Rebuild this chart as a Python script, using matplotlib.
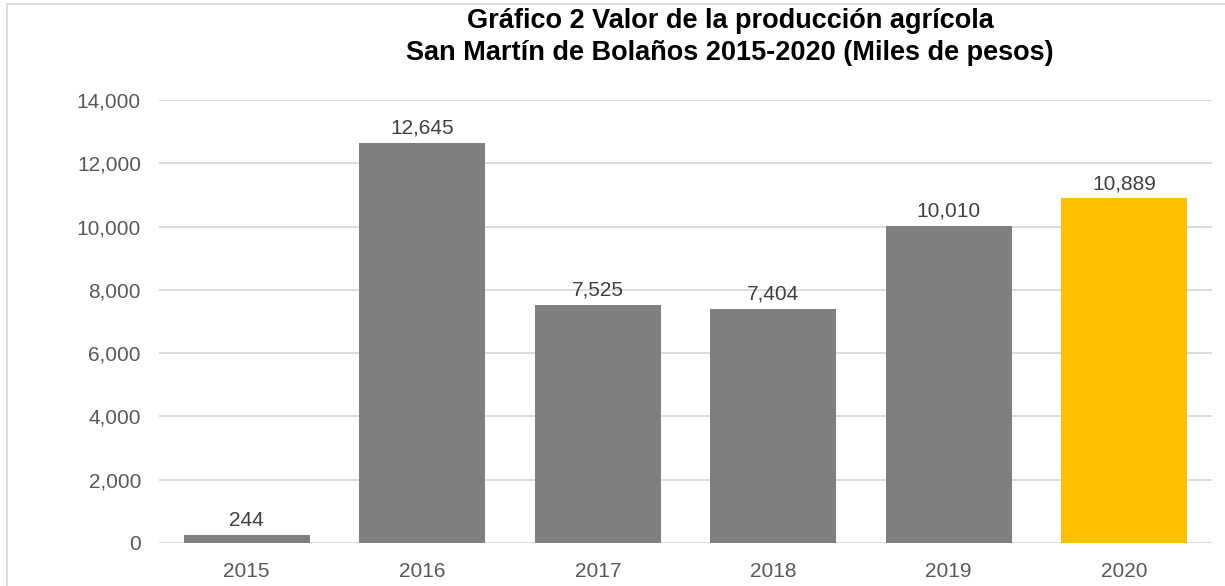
import matplotlib.pyplot as plt
from matplotlib.patches import Rectangle
from matplotlib.ticker import FuncFormatter

years = ["2015", "2016", "2017", "2018", "2019", "2020"]
valores = [244, 12645, 7525, 7404, 10010, 10889]
colores = ["#7F7F7F"] * 5 + ["#FFC000"]

plt.rcParams['font.family'] = ['Liberation Sans', 'DejaVu Sans']

fig = plt.figure(figsize=(12.25, 5.86), dpi=100)
ax = fig.add_axes([159 / 1225, 1 - 543 / 586, (1212 - 159) / 1225, (543 - 100) / 586])

x = range(len(years))
bars = ax.bar(x, valores, width=0.72, color=colores, zorder=3)
for b, v in zip(bars, valores):
    ax.text(b.get_x() + b.get_width() / 2, v + 170, f"{v:,}",
            ha="center", va="bottom", fontsize=15, color="#404040")

ax.set_xlim(-0.5, len(years) - 0.5)
ax.set_ylim(0, 14000)
ax.set_yticks(range(0, 14001, 2000))
ax.yaxis.set_major_formatter(FuncFormatter(lambda v, p: f"{int(v):,}"))
ax.set_xticks(list(x))
ax.set_xticklabels(years)
ax.tick_params(axis="both", length=0, labelsize=15, labelcolor="#595959")
ax.tick_params(axis="x", pad=14)
ax.tick_params(axis="y", pad=13)
ax.grid(axis="y", color="#D9D9D9", linewidth=1.3, zorder=0)
for s in ax.spines.values():
    s.set_visible(False)

fig.text(730 / 1225, 1 - 37 / 586, "Gráfico 2 Valor de la producción agrícola\nSan Martín de Bolaños 2015-2020 (Miles de pesos)",
         ha="center", va="center", fontsize=19.5, fontweight="bold", color="black",
         linespacing=1.3)

fig.patches.append(Rectangle((7 / 1225, -0.1), 1.2, 1 - 4 / 586 + 0.1, transform=fig.transFigure,
                             fill=False, edgecolor="#D9D9D9", linewidth=1.3))

fig.savefig("out.png", dpi=100)
